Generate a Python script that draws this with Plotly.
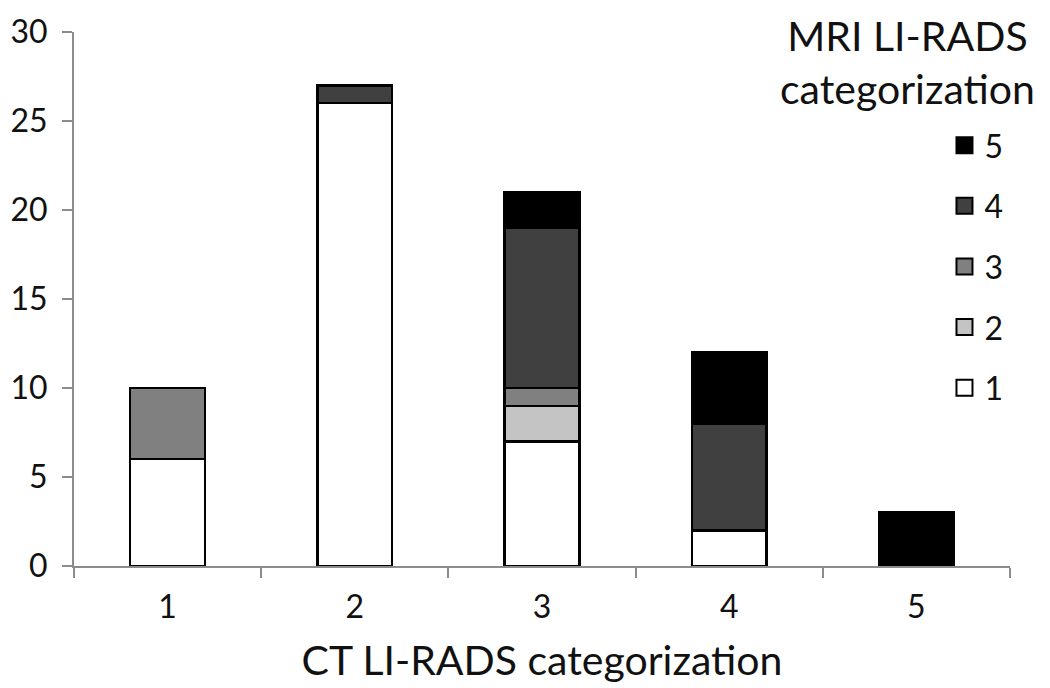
import plotly.graph_objects as go

ct_categories = ["1", "2", "3", "4", "5"]
mri_labels = ["1", "2", "3", "4", "5"]
mri1 = [6, 26, 7, 2, 0]
mri2 = [0, 0, 2, 0, 0]
mri3 = [4, 0, 1, 0, 0]
mri4 = [0, 1, 9, 6, 0]
mri5 = [0, 0, 2, 4, 3]
series = [mri1, mri2, mri3, mri4, mri5]
colors = ["#ffffff", "#c4c4c4", "#808080", "#404040", "#000000"]
y_ticks = [0, 5, 10, 15, 20, 25, 30]

FONT = "Lato"
fig = go.Figure()
for lab, vals, col in zip(mri_labels, series, colors):
    fig.add_trace(go.Bar(
        x=ct_categories, y=vals, name=lab, showlegend=False,
        marker=dict(color=col, line=dict(color="#000000", width=2.5)),
    ))
# legend entries, top to bottom: 5 .. 1
for lab, col in reversed(list(zip(mri_labels, colors))):
    fig.add_trace(go.Scatter(
        x=[None], y=[None], mode="markers", name=lab, legendgroup=lab,
        marker=dict(symbol="square", size=16, color=col,
                    line=dict(color="#000000", width=2)),
    ))

fig.update_layout(
    width=1050, height=688,
    margin=dict(l=66, r=48, t=24, b=130),
    barmode="stack", bargap=0.6,
    plot_bgcolor="white", paper_bgcolor="white",
    font=dict(family=FONT, color="#111111"),
    legend=dict(
        x=0.930, xanchor="left", y=0.839, yanchor="top",
        traceorder="grouped", tracegroupgap=16,
        font=dict(size=32, family=FONT), itemsizing="trace",
        bgcolor="rgba(0,0,0,0)",
    ),
    xaxis=dict(
        type="category", range=[-0.5, 4.5], automargin=False,
        showline=True, linecolor="#8c8c8c", linewidth=2,
        ticks="outside", tickson="boundaries", ticklen=10, tickcolor="#8c8c8c", tickwidth=2,
        tickfont=dict(size=32, family=FONT), ticklabelstandoff=12,
        title=dict(text="CT LI-RADS categorization", font=dict(size=41, family=FONT), standoff=22),
        showgrid=False,
    ),
    yaxis=dict(
        range=[0, 30], tickvals=y_ticks, automargin=False,
        showline=True, linecolor="#8c8c8c", linewidth=2,
        ticks="outside", ticklen=10, tickcolor="#8c8c8c", tickwidth=2,
        tickfont=dict(size=32, family=FONT), ticklabelstandoff=8,
        showgrid=False, zeroline=False,
    ),
    annotations=[dict(
        text="MRI LI-RADS<br>categorization", xref="paper", yref="paper",
        x=0.891, y=1.043, xanchor="center", yanchor="top", showarrow=False,
        font=dict(size=41, family=FONT, color="#111111"), align="center",
    )],
)

fig.write_html("out.html")
